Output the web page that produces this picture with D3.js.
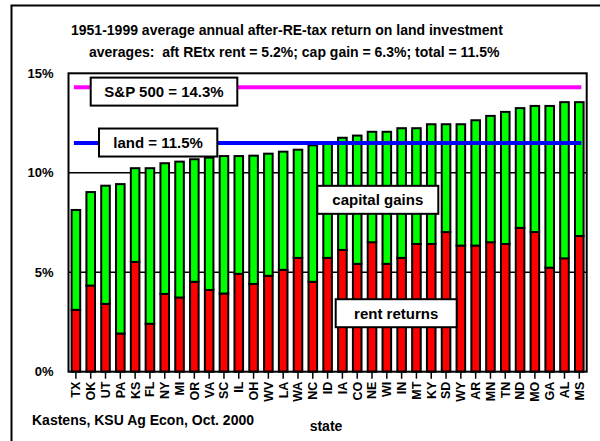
<!DOCTYPE html>
<html>
<head>
<meta charset="utf-8">
<script src="https://cdn.jsdelivr.net/npm/d3@7"></script>
<style>
    body { margin: 0; background: #fff; }
    svg text { font-family: "Liberation Sans", Arial, sans-serif; font-weight: bold; fill: #000; }
</style>
</head>
<body>
<div id="chart"></div>
<script>
// state order (sorted by total return)
var states = ["TX", "OK", "UT", "PA", "KS", "FL", "NY", "MI", "OR", "VA", "SC", "IL", "OH", "WV", "LA", "WA", "NC", "ID",
    "IA", "CO", "NE", "WI", "IN", "MT", "KY", "SD", "WY", "AR", "MN", "TN", "ND", "MO", "GA", "AL", "MS"];
// after-RE-tax rent returns, %
var rent = [3.11, 4.33, 3.41, 1.92, 5.52, 2.41, 3.91, 3.73, 4.52, 4.11, 3.93, 4.92, 4.41, 4.82, 5.12, 5.72, 4.52, 5.72,
    6.12, 5.42, 6.51, 5.42, 5.72, 6.42, 6.42, 7.02, 6.34, 6.34, 6.51, 6.42, 7.23, 7.02, 5.23, 5.70, 6.82];
// capital gains, %
var capGain = [5.02, 4.70, 5.94, 7.51, 4.71, 7.82, 6.57, 6.83, 6.16, 6.65, 6.91, 5.92, 6.45, 6.14, 5.94, 5.44, 6.86, 5.78,
    5.64, 6.45, 5.55, 6.64, 6.52, 5.82, 6.02, 5.42, 6.10, 6.30, 6.35, 6.64, 6.02, 6.34, 8.13, 7.85, 6.73];
var yTicks = [0, 5, 10, 15];
var gridVals = [5, 10];
var sp500 = 14.3;
var land = 11.5;

var W = 600, H = 441;
var area = { left: 68.5, top: 73.3, right: 586.7, bottom: 371.7 };

var svg = d3.select("#chart").append("svg")
    .attr("width", W).attr("height", H);

// outer frame (only top/left visible)
svg.append("rect")
    .attr("x", 11.5).attr("y", 5.5)
    .attr("width", 700).attr("height", 500)
    .attr("fill", "none").attr("stroke", "#000").attr("stroke-width", 2);

// titles
svg.append("text").attr("x", 71).attr("y", 35)
    .style("font-size", "14px")
    .text("1951-1999 average annual after-RE-tax return on land investment");
svg.append("text").attr("x", 89).attr("y", 57)
    .style("font-size", "14px")
    .style("white-space", "pre")
    .text("averages:  aft REtx rent = 5.2%; cap gain = 6.3%; total = 11.5%");

var data = states.map(function(s, i) {
    return { state: s, rent: rent[i], gain: capGain[i] };
});

var x = d3.scaleBand().domain(states)
    .range([area.left, area.right])
    .paddingInner(0.42).paddingOuter(0.21);
var y = d3.scaleLinear().domain([0, 15]).range([area.bottom, area.top]);

// gridlines
svg.append("g").selectAll("line")
    .data(gridVals).enter().append("line")
    .attr("x1", area.left).attr("x2", area.right)
    .attr("y1", d => y(d)).attr("y2", d => y(d))
    .attr("stroke", "#000").attr("stroke-width", 1.5);

// y axis labels
var yAxis = svg.append("g")
    .attr("transform", "translate(" + area.left + ",0)")
    .call(d3.axisLeft(y).tickValues(yTicks).tickFormat(d => d + "%").tickSize(0).tickPadding(15));
yAxis.select(".domain").remove();
yAxis.selectAll("text").style("font-size", "13px").style("font-family", "'Liberation Sans', Arial, sans-serif");

// stacked bars
var stack = d3.stack().keys(["rent", "gain"])(data);
var colors = { rent: "#ff0000", gain: "#00ff00" };
svg.append("g").selectAll("g")
    .data(stack).enter().append("g")
    .attr("fill", d => colors[d.key])
    .selectAll("rect")
    .data(d => d).enter().append("rect")
    .attr("x", d => x(d.data.state))
    .attr("width", x.bandwidth())
    .attr("y", d => y(d[1]))
    .attr("height", d => y(d[0]) - y(d[1]))
    .attr("stroke", "#000").attr("stroke-width", 2);

// plot frame
svg.append("rect")
    .attr("x", area.left).attr("y", area.top)
    .attr("width", area.right - area.left).attr("height", area.bottom - area.top)
    .attr("fill", "none").attr("stroke", "#000").attr("stroke-width", 2);

// x axis
var xAxis = svg.append("g")
    .attr("transform", "translate(0," + area.bottom + ")")
    .call(d3.axisBottom(x).tickSize(7));
xAxis.select(".domain").remove();
xAxis.selectAll("line").attr("stroke-width", 1.5);
xAxis.selectAll("text")
    .style("font-size", "12.5px").style("font-family", "'Liberation Sans', Arial, sans-serif")
    .attr("transform", "rotate(-90)")
    .attr("x", -10).attr("y", 0).attr("dy", "0.35em")
    .style("text-anchor", "end");

// benchmark lines
var firstC = x(states[0]) + x.bandwidth() / 2;
var lastC = x(states[states.length - 1]) + x.bandwidth() / 2;
[[sp500, "#ff00ff"], [land, "#0000ff"]].forEach(function(r) {
    svg.append("line")
        .attr("x1", firstC).attr("x2", lastC)
        .attr("y1", y(r[0])).attr("y2", y(r[0]))
        .attr("stroke", r[1]).attr("stroke-width", 4)
        .attr("stroke-linecap", "square");
});

// label boxes
function labelBox(x0, w, yv, txt) {
    var g = svg.append("g");
    g.append("rect")
        .attr("x", x0).attr("y", y(yv) - 14)
        .attr("width", w).attr("height", 28)
        .attr("fill", "#fff").attr("stroke", "#000").attr("stroke-width", 2);
    g.append("text")
        .attr("x", x0 + w / 2).attr("y", y(yv) + 5.5)
        .attr("text-anchor", "middle")
        .style("font-size", "15px")
        .text(txt);
}
labelBox(90.7, 146.6, 14.08, "S&P 500 = " + sp500 + "%");
labelBox(99, 118.3, 11.52, "land = " + land + "%");
labelBox(317.3, 121, 8.64, "capital gains");
labelBox(335.7, 121, 2.94, "rent returns");

// footer
svg.append("text").attr("x", 32).attr("y", 425)
    .style("font-size", "14px")
    .text("Kastens, KSU Ag Econ, Oct. 2000");
svg.append("text").attr("x", 326).attr("y", 431)
    .attr("text-anchor", "middle")
    .style("font-size", "14px")
    .text("state");
</script>
</body>
</html>
